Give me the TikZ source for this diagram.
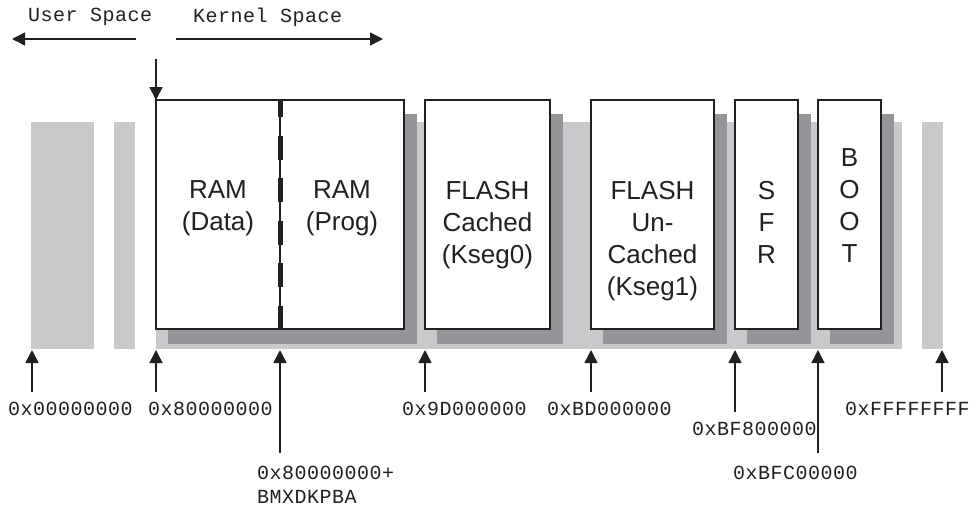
\documentclass[tikz,border=0pt]{standalone}
\usepackage{fontspec}
\setmainfont{Liberation Sans}
\newfontfamily\addrfont[LetterSpace=2.5]{Liberation Mono}
\usetikzlibrary{arrows.meta}
\definecolor{bandgray}{RGB}{200,201,203}
\definecolor{shadegray}{RGB}{147,149,152}
\definecolor{inkblack}{RGB}{35,31,32}
\tikzset{
  segbox/.style={
    draw=inkblack, line width=1.5pt, fill=white
  },
  segshade/.style={
    fill=shadegray
  },
  band/.style={
    fill=bandgray
  },
  seglabel/.style={
    anchor=north, inner sep=0pt, align=center,
    font=\fontsize{26}{32}\selectfont, text=inkblack
  },
  addr/.style={
    anchor=west, inner sep=0pt,
    font=\addrfont\fontsize{20}{24}\selectfont, text=inkblack
  },
  pointer/.style={
    -{Triangle[width=13pt,length=13pt]}, line width=1.5pt, draw=inkblack
  }
}

\begin{document}
\begin{tikzpicture}[x=1pt, y=-1pt]
    \useasboundingbox (0,0) rectangle (976,507);

    % Address space band
    \fill[band] (31,122) rectangle (94,349);
    \fill[band] (114,122) rectangle (135,349);
    \fill[band] (156,122) rectangle (902,349);
    \fill[band] (922,122) rectangle (943,349);

    % Shadows
    \fill[segshade] (168,114) rectangle (417,344);
    \fill[segshade] (437,114) rectangle (563,344);
    \fill[segshade] (603,114) rectangle (727,344);
    \fill[segshade] (747,114) rectangle (811,344);
    \fill[segshade] (830,114) rectangle (894,344);

    % Segment blocks
    \draw[segbox] (156,100) rectangle (404,329);
    \draw[segbox] (425,100) rectangle (550,329);
    \draw[segbox] (591,100) rectangle (714,329);
    \draw[segbox] (735,100) rectangle (798,329);
    \draw[segbox] (818,100) rectangle (881,329);

    % Data / program split
    \draw[line width=1.5pt, inkblack] (280,100) -- (280,329);
    \draw[line width=5pt, inkblack, dash pattern=on 24pt off 18.5pt, dash phase=7pt]
      (280,100) -- (280,329);

    % Segment names
    \node[seglabel] (ramdata) at (218,180.7) {RAM\\(Data)};
    \node[seglabel] (ramprog) at (342,180.7) {RAM\\(Prog)};
    \node[seglabel] (kseg0) at (487.5,180.7) {FLASH\\Cached\\(Kseg0)};
    \node[seglabel] (kseg1) at (652.5,180.7) {FLASH\\Un-\\Cached\\(Kseg1)};
    \node[seglabel] (sfr) at (766.5,180.7) {S\\F\\R};
    \node[seglabel] (boot) at (849.5,148.7) {B\\O\\O\\T};

    % User / kernel space
    \node[addr] (user) at (28,17) {User Space};
    \node[addr] (kernel) at (193,17) {Kernel Space};
    \coordinate (userR) at (136,39);
    \coordinate (userL) at (12,39);
    \coordinate (kernL) at (176,39);
    \coordinate (kernR) at (383,39);
    \draw[pointer] (userR) -- (userL);
    \draw[pointer] (kernL) -- (kernR);

    % Kernel start marker
    \coordinate (kstart) at (156,59);
    \coordinate (ktop) at (156,100);
    \draw[pointer] (kstart) -- (ktop);

    % Address pointers
    \coordinate (a0) at (32,392);    \coordinate (t0) at (32,350);
    \coordinate (a1) at (156,392);   \coordinate (t1) at (156,350);
    \coordinate (a2) at (280,453);   \coordinate (t2) at (280,350);
    \coordinate (a3) at (425,392);   \coordinate (t3) at (425,350);
    \coordinate (a4) at (591,392);   \coordinate (t4) at (591,350);
    \coordinate (a5) at (735,412);   \coordinate (t5) at (735,350);
    \coordinate (a6) at (818,453);   \coordinate (t6) at (818,350);
    \coordinate (a7) at (942,392);   \coordinate (t7) at (942,350);
    \draw[pointer] (a0) -- (t0);
    \draw[pointer] (a1) -- (t1);
    \draw[pointer] (a2) -- (t2);
    \draw[pointer] (a3) -- (t3);
    \draw[pointer] (a4) -- (t4);
    \draw[pointer] (a5) -- (t5);
    \draw[pointer] (a6) -- (t6);
    \draw[pointer] (a7) -- (t7);

    % Address labels
    \node[addr] (l0) at (8,409) {0x00000000};
    \node[addr] (l1) at (148,409) {0x80000000};
    \node[addr] (l2) at (257,473) {0x80000000+};
    \node[addr] (l2b) at (257,497) {BMXDKPBA};
    \node[addr] (l3) at (402,409) {0x9D000000};
    \node[addr] (l4) at (547,409) {0xBD000000};
    \node[addr] (l5) at (692,429) {0xBF800000};
    \node[addr] (l6) at (733,473) {0xBFC00000};
    \node[addr] (l7) at (845,409) {0xFFFFFFFF};
\end{tikzpicture}
\end{document}
